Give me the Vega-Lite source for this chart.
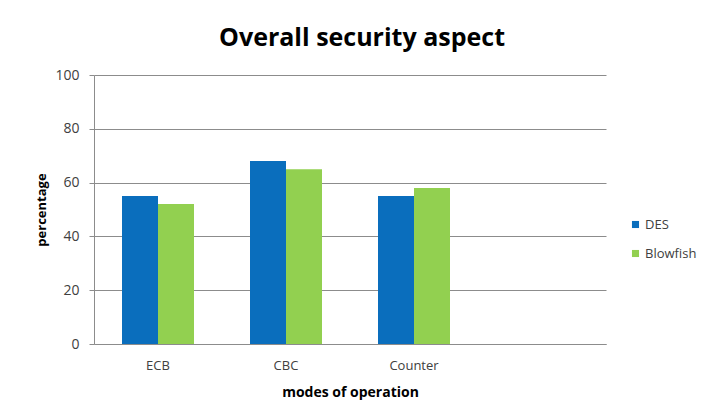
{
  "$schema": "https://vega.github.io/schema/vega-lite/v6.json",
  "width": 512,
  "height": 269,
  "autosize": {"type": "none"},
  "padding": {"left": 94, "top": 75, "right": 96, "bottom": 73},
  "background": "white",
  "title": {
    "text": "Overall security aspect",
    "font": "Open Sans",
    "fontSize": 25,
    "fontWeight": "bold",
    "color": "#000000",
    "anchor": "middle",
    "frame": "group",
    "dx": 12,
    "baseline": "alphabetic",
    "offset": -3
  },
  "data": {
    "values": [
      {"mode": "ECB", "cipher": "DES", "value": 55},
      {"mode": "ECB", "cipher": "Blowfish", "value": 52},
      {"mode": "CBC", "cipher": "DES", "value": 68},
      {"mode": "CBC", "cipher": "Blowfish", "value": 65},
      {"mode": "Counter", "cipher": "DES", "value": 55},
      {"mode": "Counter", "cipher": "Blowfish", "value": 58}
    ]
  },
  "mark": {"type": "bar"},
  "encoding": {
    "x": {
      "field": "mode",
      "type": "nominal",
      "scale": {"domain": ["ECB", "CBC", "Counter", " "], "paddingInner": 0.4375, "paddingOuter": 0.21875},
      "axis": {
        "title": "modes of operation",
        "labelAngle": 0,
        "ticks": false,
        "labelPadding": 15,
        "titlePadding": 13,
        "titleFontSize": 14,
        "domainColor": "#8c8c8c",
        "grid": false
      }
    },
    "xOffset": {
      "field": "cipher",
      "type": "nominal",
      "scale": {"domain": ["DES", "Blowfish"], "paddingInner": 0, "paddingOuter": 0}
    },
    "y": {
      "field": "value",
      "type": "quantitative",
      "scale": {"domain": [0, 100], "nice": false},
      "axis": {
        "title": "percentage",
        "values": [0, 20, 40, 60, 80, 100],
        "tickSize": 5,
        "labelPadding": 10,
        "titlePadding": 6,
        "labelFontSize": 14,
        "tickColor": "#8c8c8c",
        "domainColor": "#8c8c8c",
        "gridColor": "#8c8c8c",
        "gridOpacity": 1
      }
    },
    "color": {
      "field": "cipher",
      "type": "nominal",
      "scale": {"domain": ["DES", "Blowfish"], "range": ["#0A6EBD", "#92D050"]},
      "legend": {
        "title": null,
        "orient": "none",
        "legendX": 535,
        "legendY": 143,
        "symbolType": "square",
        "symbolSize": 50,
        "symbolStrokeWidth": 0,
        "labelFont": "Open Sans",
        "labelFontSize": 13,
        "labelColor": "#404040",
        "labelOffset": 3,
        "rowPadding": 15
      }
    }
  },
  "config": {
    "view": {"stroke": null},
    "axis": {
      "labelFont": "Open Sans",
      "labelFontSize": 13,
      "labelColor": "#404040",
      "titleFont": "Open Sans",
      "titleFontSize": 13,
      "titleFontWeight": "bold",
      "titleColor": "#000000"
    }
  }
}
